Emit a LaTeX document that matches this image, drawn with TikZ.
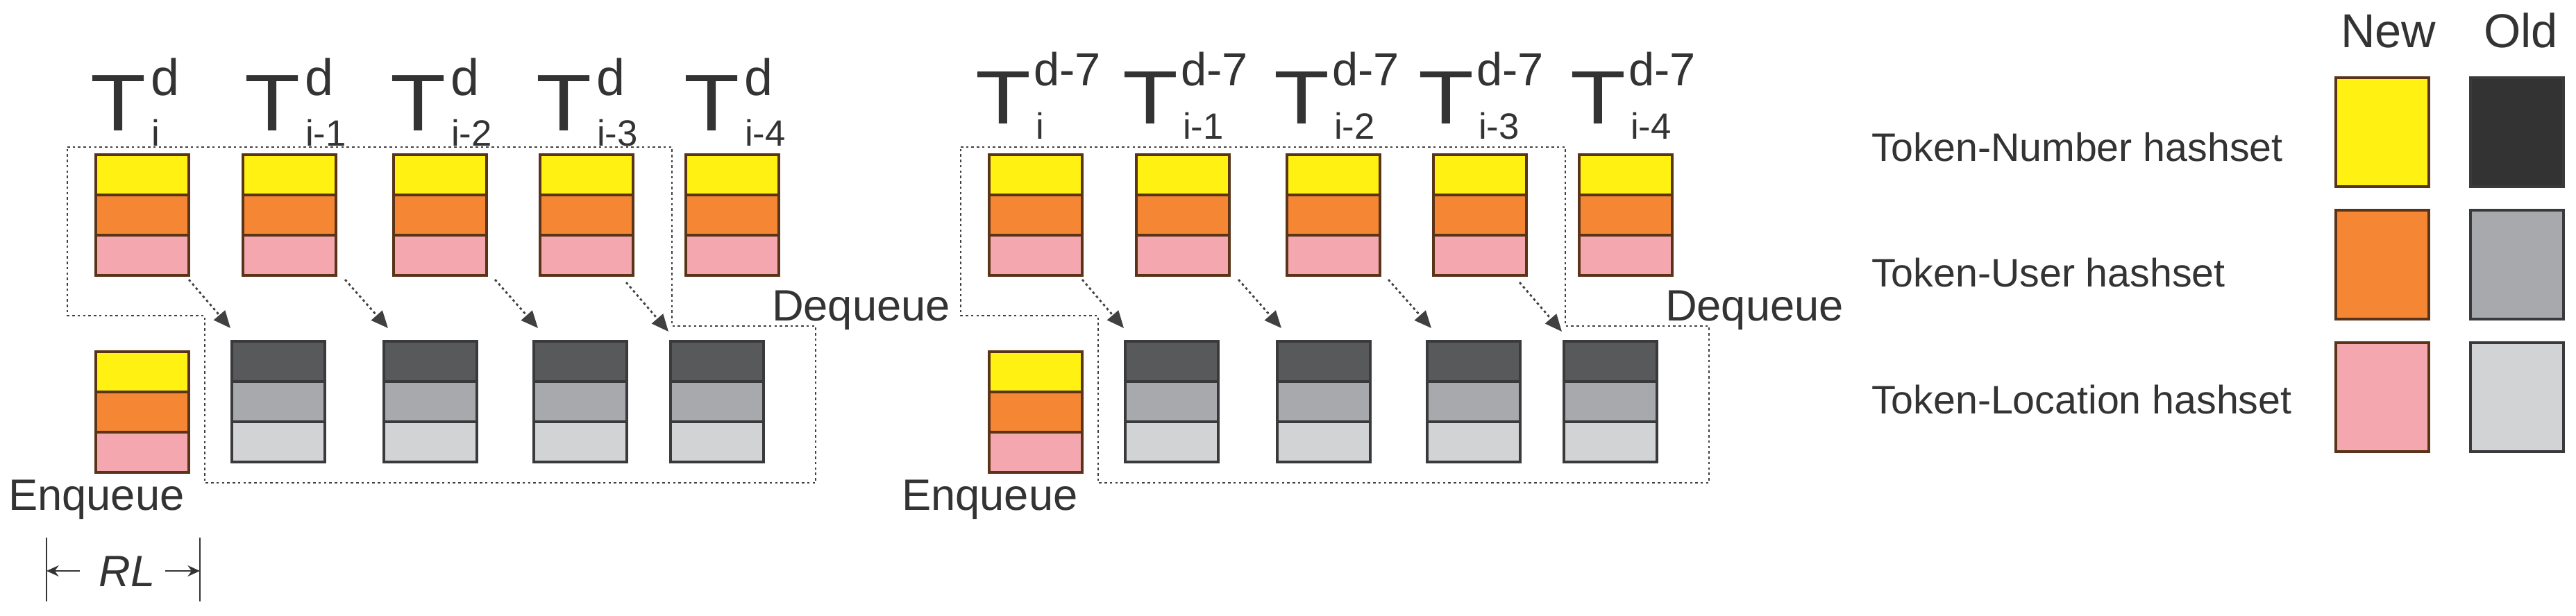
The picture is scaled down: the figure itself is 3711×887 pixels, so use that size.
\documentclass[tikz,border=0pt]{standalone}
\usepackage{graphicx}
\usepackage{fontspec}
\setmainfont{Liberation Sans}
\usetikzlibrary{arrows.meta}
\definecolor{cyel}{HTML}{FFF212}
\definecolor{corg}{HTML}{F58634}
\definecolor{cpnk}{HTML}{F4A7AF}
\definecolor{cdk}{HTML}{58595B}
\definecolor{cmd}{HTML}{A7A9AC}
\definecolor{clt}{HTML}{D1D3D4}
\definecolor{cnl}{HTML}{5A3418}
\definecolor{col}{HTML}{3A3A3C}
\definecolor{ctext}{HTML}{333333}
\definecolor{clegdk}{HTML}{333333}
\newcommand{\fs}[1]{\fontsize{#1}{#1}\selectfont}
\newcommand{\wideT}[1]{\scalebox{#1}[1]{T}}
\newcommand{\newstack}[3]{%
  \node[stripe=cnl, fill=cyel] (#1a) at ({#2},{#3}) {};
  \node[stripe=cnl, fill=corg] (#1b) at ({#2},{#3+58}) {};
  \node[stripe=cnl, fill=cpnk] (#1c) at ({#2},{#3+116}) {};}
\newcommand{\oldstack}[3]{%
  \node[stripe=col, fill=cdk] (#1a) at ({#2},{#3}) {};
  \node[stripe=col, fill=cmd] (#1b) at ({#2},{#3+58}) {};
  \node[stripe=col, fill=clt] (#1c) at ({#2},{#3+116}) {};}
\begin{document}
\begin{tikzpicture}[x=0.01cm,y=-0.01cm,
  stripe/.style={draw=#1, line width=1.1pt, minimum width=1.34cm, minimum height=0.58cm,
    inner sep=0pt, outer sep=0pt, anchor=north west},
  legbox/.style={draw=#1, line width=1pt, minimum width=1.34cm, minimum height=1.57cm,
    inner sep=0pt, outer sep=0pt, anchor=north west},
  txt/.style={text=ctext, inner sep=0pt, outer sep=0pt, anchor=base west},
  dotline/.style={draw=black!75, line width=0.8pt, dash pattern=on 1pt off 1.2pt},
  dotarrow/.style={dotline, -{Triangle[length=7pt,width=6pt]}},
  rlline/.style={draw=ctext, line width=0.7pt},
  rlarrow/.style={rlline, -{Stealth[length=5pt,width=4.5pt]}}]
\useasboundingbox (0,0) rectangle (3711,887);
\fill[white] (0,0) rectangle (3711,887);

% ---- two queue groups ----
\foreach \g/\ox in {L/0, R/1287} {
  % dotted outline
  \draw[dotline] ({\ox+97},212) -- ({\ox+968},212) -- ({\ox+968},470) -- ({\ox+1175},470)
     -- ({\ox+1175},696) -- ({\ox+295},696) -- ({\ox+295},455) -- ({\ox+97},455) -- cycle;
  % new hashsets (top row)
  \foreach \n/\bx in {1/138, 2/350, 3/567, 4/778, 5/988} {
    \newstack{\g-t\n}{\ox+\bx}{223}
  }
  % enqueued new hashset
  \newstack{\g-e}{\ox+138}{507}
  % old hashsets
  \foreach \n/\bx in {1/334, 2/553, 3/769, 4/966} {
    \oldstack{\g-o\n}{\ox+\bx}{492}
  }
  % arrows
  \draw[dotarrow] ([yshift=-0.06cm]\g-t1c.south east) -- ([xshift=-0.02cm,yshift=0.19cm]\g-o1a.north west);
  \draw[dotarrow] ([xshift=0.13cm,yshift=-0.06cm]\g-t2c.south east) -- ([xshift=0.06cm,yshift=0.19cm]\g-o2a.north west);
  \draw[dotarrow] ([xshift=0.12cm,yshift=-0.06cm]\g-t3c.south east) -- ([xshift=0.06cm,yshift=0.19cm]\g-o3a.north west);
  \draw[dotarrow] ([xshift=-0.1cm,yshift=-0.1cm]\g-t4c.south east) -- ([xshift=-0.03cm,yshift=0.14cm]\g-o4a.north west);
  % labels
  \node[txt, font=\fs{18pt}] (\g-enq) at ({\ox+12},735) {Enqueue};
  \node[txt, font=\fs{18pt}] (\g-deq) at ({\ox+1112},462) {Dequeue};
}

% ---- T labels, left group ----
\foreach \n/\xt/\sub in {1/133/i, 2/355/i-1, 3/565/i-2, 4/775/i-3, 5/988/i-4} {
  \node[txt, font=\fs{33pt}] (LT\n) at ({\xt-3},188) {\wideT{1.13}};
  \node[txt, font=\fs{21pt}] (LTs\n) at ({\xt+84},137) {d};
  \node[txt, font=\fs{15pt}] (LTb\n) at ({\xt+85},210) {\sub};
}
% ---- T labels, right group ----
\foreach \n/\xt/\sub in {1/1408/i, 2/1620/i-1, 3/1838/i-2, 4/2046/i-3, 5/2265/i-4} {
  \node[txt, font=\fs{31pt}] (RT\n) at ({\xt-3},178) {\wideT{1.2}};
  \node[txt, font=\fs{19pt}] (RTs\n) at ({\xt+81},123) {d-7};
  \node[txt, font=\fs{15pt}] (RTb\n) at ({\xt+84},200) {\sub};
}

% ---- RL dimension ----
\coordinate (rlAt) at (67,775);  \coordinate (rlAb) at (67,867);
\coordinate (rlBt) at (288,775); \coordinate (rlBb) at (288,867);
\coordinate (rlAm) at (67,823);  \coordinate (rlBm) at (288,823);
\coordinate (rlAs) at (115,823); \coordinate (rlBs) at (238,823);
\draw[rlline] (rlAt) -- (rlAb);
\draw[rlline] (rlBt) -- (rlBb);
\node[txt, font=\fs{18pt}\itshape] (RL) at (143,845) {RL};
\draw[rlarrow] (rlAs) -- (rlAm);
\draw[rlarrow] (rlBs) -- (rlBm);

% ---- legend ----
\node[txt, font=\fs{19.5pt}] (lgNew) at (3372,68) {New};
\node[txt, font=\fs{19.5pt}] (lgOld) at (3578,68) {Old};
\node[legbox=cnl, fill=cyel] (lgNy) at (3365,112) {};
\node[legbox=cnl, fill=corg] (lgNo) at (3365,303) {};
\node[legbox=cnl, fill=cpnk] (lgNp) at (3365,494) {};
\node[legbox=col, fill=clegdk] (lgOd) at (3559,112) {};
\node[legbox=col, fill=cmd] (lgOm) at (3559,303) {};
\node[legbox=col, fill=clt] (lgOl) at (3559,494) {};
\node[txt, font=\fs{16.3pt}] (lgT1) at (2696,232) {Token-Number hashset};
\node[txt, font=\fs{16.3pt}] (lgT2) at (2696,413) {Token-User hashset};
\node[txt, font=\fs{16.3pt}] (lgT3) at (2696,596) {Token-Location hashset};
\end{tikzpicture}
\end{document}
